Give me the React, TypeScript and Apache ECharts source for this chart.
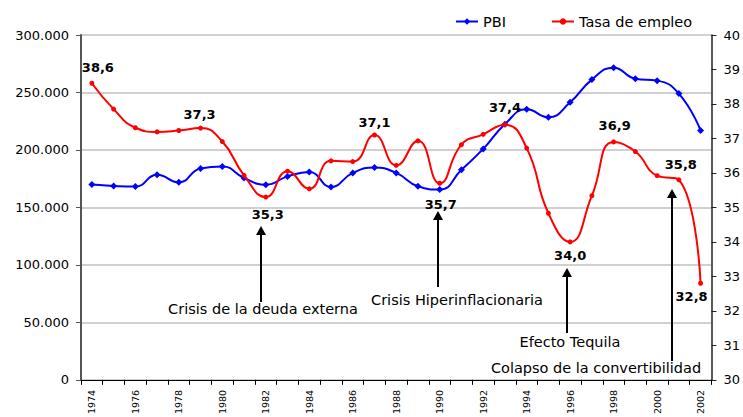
import React, { useEffect, useRef } from "react";
import * as echarts from "echarts";

const years = [
  "1974", "1975", "1976", "1977", "1978", "1979", "1980", "1981", "1982", "1983",
  "1984", "1985", "1986", "1987", "1988", "1989", "1990", "1991", "1992", "1993",
  "1994", "1995", "1996", "1997", "1998", "1999", "2000", "2001", "2002",
];

const pbi = [
  170000, 168700, 168100, 178400, 171800, 183900, 185600, 175600, 169800, 177000,
  180800, 167800, 180000, 184800, 180000, 168400, 165500, 182800, 200900, 222400,
  235300, 228400, 241400, 261200, 271600, 262000, 260300, 249000, 217000,
];

const empleo = [
  38.6, 37.85, 37.31, 37.19, 37.23, 37.3, 36.91, 35.93, 35.3, 36.05,
  35.54, 36.35, 36.33, 37.1, 36.22, 36.93, 35.7, 36.82, 37.12, 37.4,
  36.72, 34.83, 34.0, 35.34, 36.9, 36.62, 35.92, 35.8, 32.8,
];

const labelledYears = ["1974", "1979", "1982", "1987", "1990", "1993", "1996", "1998", "2001", "2002"];

const seriesNames = ["PBI", "Tasa de empleo"];

const annotations = [
  { text: "Crisis de la deuda externa", x: 261, tipY: 226, baseY: 302, tx: 263, ty: 309 },
  { text: "Crisis Hiperinflacionaria", x: 438, tipY: 211, baseY: 287, tx: 457, ty: 300 },
  { text: "Efecto Tequila", x: 567, tipY: 268, baseY: 333, tx: 570, ty: 342 },
  { text: "Colapso de la convertibilidad", x: 672, tipY: 189, baseY: 361, tx: 596, ty: 368 },
];

// label placement (layout only)
const labelLayout: Record<string, { position: string; offset: number[] }> = {
  "1974": { position: "top", offset: [6, -2] },
  "1979": { position: "top", offset: [-1, 0] },
  "1982": { position: "bottom", offset: [2, 3] },
  "1987": { position: "top", offset: [0, 2] },
  "1990": { position: "bottom", offset: [1, 7] },
  "1993": { position: "top", offset: [0, -3] },
  "1996": { position: "bottom", offset: [0, 0] },
  "1998": { position: "top", offset: [1, -2] },
  "2001": { position: "top", offset: [2, -1] },
  "2002": { position: "bottom", offset: [-9, -1] },
};

const FONT = "DejaVu Sans";

export default function App() {
  const ref = useRef<HTMLDivElement>(null);

  useEffect(() => {
    if (!ref.current) return;
    const chart = echarts.init(ref.current, undefined, { renderer: "svg" });

    const empleoData = empleo.map((v, i) => {
      const y = years[i];
      if (!labelledYears.includes(y)) return v;
      const l = labelLayout[y];
      return {
        value: v,
        label: {
          show: true,
          position: l.position,
          offset: l.offset,
          formatter: (p: any) => Number(p.value).toFixed(1).replace(".", ","),
          fontFamily: FONT,
          fontSize: 13,
          fontWeight: "bold",
          color: "#000",
        },
      };
    });

    const graphics: any[] = [];
    annotations.forEach((a) => {
      graphics.push({
        type: "line",
        shape: { x1: a.x, y1: a.tipY + 7, x2: a.x, y2: a.baseY },
        style: { stroke: "#000", lineWidth: 2 },
        z: 100,
      });
      graphics.push({
        type: "polygon",
        shape: { points: [[a.x, a.tipY], [a.x - 5, a.tipY + 9], [a.x + 5, a.tipY + 9]] },
        style: { fill: "#000" },
        z: 100,
      });
      graphics.push({
        type: "text",
        x: a.tx,
        y: a.ty,
        style: {
          text: a.text,
          fontFamily: FONT,
          fontSize: 14.5,
          fill: "#000",
          align: "center",
          verticalAlign: "middle",
        },
        z: 100,
      });
    });

    chart.setOption({
      animation: false,
      backgroundColor: "#fff",
      textStyle: { fontFamily: FONT },
      grid: { left: 81, right: 31, top: 35, bottom: 34, containLabel: false },
      legend: {
        data: seriesNames,
        left: 450,
        top: 9,
        itemWidth: 22,
        itemHeight: 8,
        itemGap: 45,
        textStyle: { fontFamily: FONT, fontSize: 14.5, color: "#000" },
      },
      xAxis: {
        type: "category",
        data: years,
        boundaryGap: true,
        axisLine: { lineStyle: { color: "#000", width: 1 } },
        axisTick: { show: true, interval: 0, length: 5, lineStyle: { color: "#000" } },
        axisLabel: {
          interval: 1,
          rotate: 90,
          fontFamily: FONT,
          fontSize: 9.5,
          color: "#000",
          margin: 10,
        },
      },
      yAxis: [
        {
          type: "value",
          min: 0,
          max: 300000,
          interval: 50000,
          axisLine: { show: true, lineStyle: { color: "#555", width: 2 } },
          axisTick: { show: true, length: 5, lineStyle: { color: "#555" } },
          splitLine: { show: true, lineStyle: { color: "#c0c0c0", width: 1.5 } },
          axisLabel: {
            fontFamily: FONT,
            fontSize: 13,
            color: "#000",
            margin: 12,
            formatter: (v: number) => (v === 0 ? "0" : `${v / 1000}.000`),
          },
        },
        {
          type: "value",
          min: 30,
          max: 40,
          interval: 1,
          position: "right",
          axisLine: { show: true, lineStyle: { color: "#222", width: 1.5 } },
          axisTick: { show: true, length: 5, lineStyle: { color: "#222" } },
          splitLine: { show: false },
          axisLabel: { fontFamily: FONT, fontSize: 13, color: "#000", margin: 12 },
        },
      ],
      series: [
        {
          name: seriesNames[0],
          type: "line",
          yAxisIndex: 0,
          data: pbi,
          smooth: 0.5,
          symbol: "diamond",
          symbolSize: 7,
          lineStyle: { color: "#0000ff", width: 2 },
          itemStyle: { color: "#0000ff" },
          z: 3,
        },
        {
          name: seriesNames[1],
          type: "line",
          yAxisIndex: 1,
          data: empleoData,
          smooth: 0.5,
          symbol: "circle",
          symbolSize: 5,
          lineStyle: { color: "#ff0000", width: 2 },
          itemStyle: { color: "#ff0000" },
          z: 4,
        },
      ],
      graphic: graphics,
    });

    return () => chart.dispose();
  }, []);

  return (
    <div
      ref={ref}
      style={{ position: "fixed", left: 0, top: 0, width: 743, height: 417, background: "#fff" }}
    />
  );
}
